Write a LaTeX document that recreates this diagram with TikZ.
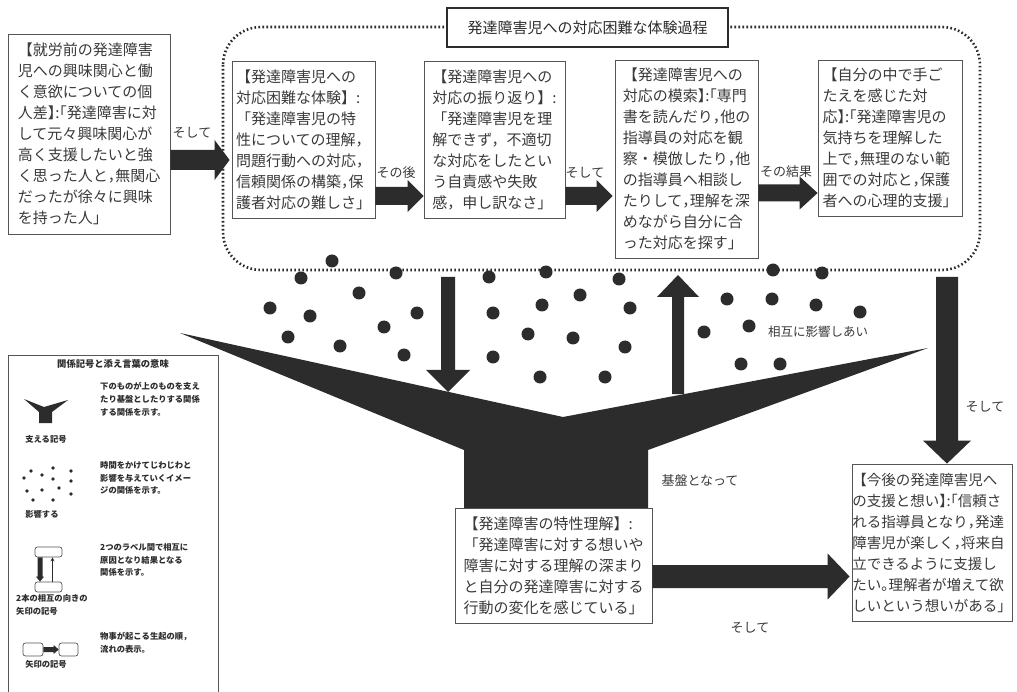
\documentclass[tikz,border=0pt]{standalone}
\usepackage{fontspec}
\newfontfamily\jp{Noto Sans CJK JP}
\newfontfamily\jph[RawFeature=+halt]{Noto Sans CJK JP}
\usetikzlibrary{calc,arrows.meta}
\definecolor{ink}{HTML}{2C2C2C}
\definecolor{txt}{HTML}{3A3A3A}
\definecolor{boxc}{HTML}{555555}
\newcommand\jcm{{\jph ，}}
\newcommand\jpd{{\jph 。}}
% block arrow: #1 from, #2 to, #3 shaft half width, #4 head half width, #5 head length
\newcommand\blockarr[5]{%
  \coordinate (bahb) at ($(#2)!#5!(#1)$);
  \fill[arrowfill] ($(#1)!#3!90:(#2)$) -- ($(bahb)!#3!90:(#2)$) -- ($(bahb)!#4!90:(#2)$) -- (#2)
    -- ($(bahb)!#4!-90:(#2)$) -- ($(bahb)!#3!-90:(#2)$) -- ($(#1)!#3!-90:(#2)$) -- cycle;}
\begin{document}
\begin{tikzpicture}[x=1pt,y=-1pt,
  txtbox/.style={draw=boxc, line width=0.8pt, fill=white, text=txt, align=left, inner sep=0pt,
    font=\jp\fontsize{15}{21}\selectfont},
  lbl/.style={text=txt, inner sep=0pt, font=\jp\fontsize{13}{15}\selectfont},
  lgd/.style={text=ink, inner sep=0pt, align=left, font=\jp\bfseries\fontsize{8.3}{12.8}\selectfont},
  spot/.style={fill=ink},
  dotline/.style={draw=ink, line width=2.6pt, dash pattern=on 1.6pt off 2.4pt, rounded corners=38pt},
  arrowfill/.style={fill=ink},
  lgdbox/.style={draw=boxc, line width=0.7pt, fill=white, rounded corners=2.5pt}]
\useasboundingbox (0,0) rectangle (1017,692);
\fill[white] (0,0) rectangle (1017,692);

% dotted frame of the process
\draw[dotline] (223,27) rectangle (980,270);

% influence dots
\foreach \p in {(332,261),(301,278),(396,273),(359,293),(270,308),(310,316),(417,313),(384,327),(288,337),(340,346),(404,355),
  (489,277),(546,272),(619,279),(580,295),(542,305),(493,313),(630,308),(528,334),(573,338),(625,347),(493,357),(540,377),(605,377),
  (773,270),(822,273),(727,299),(772,299),(816,305),(860,312),(704,332),(749,326),(741,364),(780,364)}
  \fill[spot] \p circle (6.5);

% supporting symbol (V shape)
\fill[ink] (180,333) -- (563,417) -- (928,348) -- (648,450) -- (648,509) -- (464,509) -- (464,450) -- cycle;

% title box
\node[draw=ink, line width=1.8pt, fill=white, minimum width=281pt, minimum height=39pt, inner sep=0pt,
  text=ink, font=\jp\fontsize{15}{18}\selectfont] (title) at (587.5,27.5) {発達障害児への対応困難な体験過程};

% boxes
\node[txtbox, minimum width=162pt, minimum height=200pt] (tl) at (89,134)
  {【就労前の発達障害\\児への興味関心と働\\く意欲についての個\\{\jph 人差】:「発達障害に対}\\して元々興味関心が\\高く支援したいと強\\く思った人と\jcm 無関心\\だったが徐々に興味\\を持った人」};
\node[txtbox, minimum width=143pt, minimum height=157pt] (b1) at (303.5,139.5)
  {【発達障害児への\\対応困難な体験】:\\「発達障害児の特\\性についての理解\jcm\\問題行動への対応\jcm\\信頼関係の構築\jcm 保\\護者対応の難しさ」};
\node[txtbox, minimum width=141pt, minimum height=157pt] (b2) at (494.5,139.5)
  {【発達障害児への\\対応の振り返り】:\\「発達障害児を理\\解できず，不適切\\な対応をしたとい\\う自責感や失敗\\感，申し訳なさ」};
\node[txtbox, minimum width=143pt, minimum height=198pt] (b3) at (686.5,159)
  {【発達障害児への\\{\jph 対応の模索】:「専門}\\書を読んだり\jcm 他の\\指導員の対応を観\\察・模倣したり\jcm 他\\の指導員へ相談し\\たりして\jcm 理解を深\\めながら自分に合\\った対応を探す」};
\node[txtbox, minimum width=144pt, minimum height=156pt] (b4) at (890,138)
  {【自分の中で手ご\\たえを感じた対\\{\jph 応】:「発達障害児の}\\気持ちを理解した\\上で\jcm 無理のない範\\囲での対応と\jcm 保護\\者への心理的支援」};
\node[txtbox, minimum width=197pt, minimum height=115pt] (cb) at (553.5,565.5)
  {【発達障害の特性理解】:\\「発達障害に対する想いや\\障害に対する理解の深まり\\と自分の発達障害に対する\\行動の変化を感じている」};
\node[txtbox, minimum width=160pt, minimum height=157pt, font=\jp\fontsize{14.5}{21}\selectfont] (fb) at (932,542.5)
  {【今後の発達障害児へ\\{\jph の支援と想い】:「信頼さ}\\れる指導員となり\jcm 発達\\障害児が楽しく\jcm 将来自\\立できるように支援し\\たい\jpd 理解者が増えて欲\\しいという想いがある」};

% flow arrows
\coordinate (a1s) at ($(tl.east)+(0,26)$);
\coordinate (a1e) at ($(b1.west)+(-2,20.5)$);
\blockarr{a1s}{a1e}{10pt}{20pt}{15pt}
\coordinate (a2s) at ($(b1.east)+(0,56.5)$);
\coordinate (a2e) at ($(b2.west)+(0,56.5)$);
\blockarr{a2s}{a2e}{9pt}{16pt}{16pt}
\coordinate (a3s) at ($(b2.east)+(0,56.5)$);
\coordinate (a3e) at ($(b3.west)+(-2,37)$);
\blockarr{a3s}{a3e}{9pt}{16pt}{16pt}
\coordinate (a4s) at ($(b3.east)+(0,34)$);
\coordinate (a4e) at ($(b4.west)+(0,55)$);
\blockarr{a4s}{a4e}{8.5pt}{16.5pt}{18pt}
\coordinate (a5s) at ($(cb.east)+(0,11)$);
\coordinate (a5e) at ($(fb.west)+(-2,34)$);
\blockarr{a5s}{a5e}{11.5pt}{23pt}{22pt}
\coordinate (a6s) at (947,277);
\coordinate (a6e) at ($(fb.north)+(15,0)$);
\blockarr{a6s}{a6e}{11pt}{24pt}{23pt}
\coordinate (a7s) at (448,277);
\coordinate (a7e) at (448,392);
\blockarr{a7s}{a7e}{7pt}{22pt}{22pt}
\coordinate (a8s) at (678,394);
\coordinate (a8e) at (678,275);
\blockarr{a8s}{a8e}{6pt}{21pt}{22pt}

% labels
\node[lbl] (l1) at (192,133) {そして};
\node[lbl] (l2) at (396,173) {その後};
\node[lbl] (l3) at (585,173) {そして};
\node[lbl] (l4) at (786,172) {その結果};
\node[lbl, font=\jp\fontsize{12.5}{15}\selectfont] (l5) at (818,332) {相互に影響しあい};
\node[lbl] (l6) at (700,480) {基盤となって};
\node[lbl] (l7) at (985,407) {そして};
\node[lbl] (l8) at (750,628) {そして};

% legend
\draw[draw=boxc, line width=0.7pt, fill=white] (8,692) -- (8,355) -- (218,355) -- (218,692);
\node[text=ink, inner sep=0pt, font=\jp\bfseries\fontsize{9.3}{11}\selectfont] (lt) at (113,364) {関係記号と添え言葉の意味};
% item 1
\fill[ink] (24,399) -- (44,407) -- (68,400) -- (52,412) -- (52,423) -- (39,423) -- (39,412) -- cycle;
\node[lgd, anchor=west] (d1) at (100,399) {下のものが上のものを支え\\たり基盤としたりする関係\\する関係を示す。};
\node[lgd] (n1) at (46,439) {支える記号};
% item 2
\foreach \p in {(31,471),(42,475),(53,468),(71,471),(24,478),(53,479),(71,481),(27,491),(42,490),(59,488),(71,494),(33,500),(53,500)}
  \fill[ink] \p circle (1.9);
\node[lgd, anchor=west] (d2) at (100,478) {時間をかけてじわじわと\\影響を与えていくイメー\\ジの関係を示す。};
\node[lgd] (n2) at (42,514) {影響する};
% item 3
\node[lgdbox, minimum width=27pt, minimum height=10pt, inner sep=0pt] (r3a) at (48.5,552) {};
\node[lgdbox, minimum width=27pt, minimum height=10pt, inner sep=0pt] (r3b) at (48.5,587) {};
\coordinate (i3s) at ($(r3a.south)+(-8.5,0)$);
\coordinate (i3e) at ($(r3b.north)+(-8.5,0)$);
\blockarr{i3s}{i3e}{2.5pt}{4pt}{5pt}
\draw[ink, line width=1pt, -{Stealth[length=4pt,width=4pt]}] ($(r3b.north)+(4,0)$) -- ($(r3a.south)+(4,0)$);
\node[lgd, anchor=west] (d3) at (100,560) {2つのラベル間で相互に\\原因となり結果となる\\関係を示す。};
\node[lgd, anchor=west] (n3) at (16,605) {2本の相互の向きの\\矢印の記号};
% item 4
\node[lgdbox, minimum width=20pt, minimum height=13pt, inner sep=0pt] (r4a) at (33,649.5) {};
\node[lgdbox, minimum width=19pt, minimum height=13pt, inner sep=0pt] (r4b) at (68.5,649.5) {};
\blockarr{r4a.east}{r4b.west}{2.5pt}{4.5pt}{5pt}
\node[lgd, anchor=west] (d4) at (100,643) {物事が起こる生起の順，\\流れの表示。};
\node[lgd] (n4) at (46,664) {矢印の記号};
\end{tikzpicture}
\end{document}
